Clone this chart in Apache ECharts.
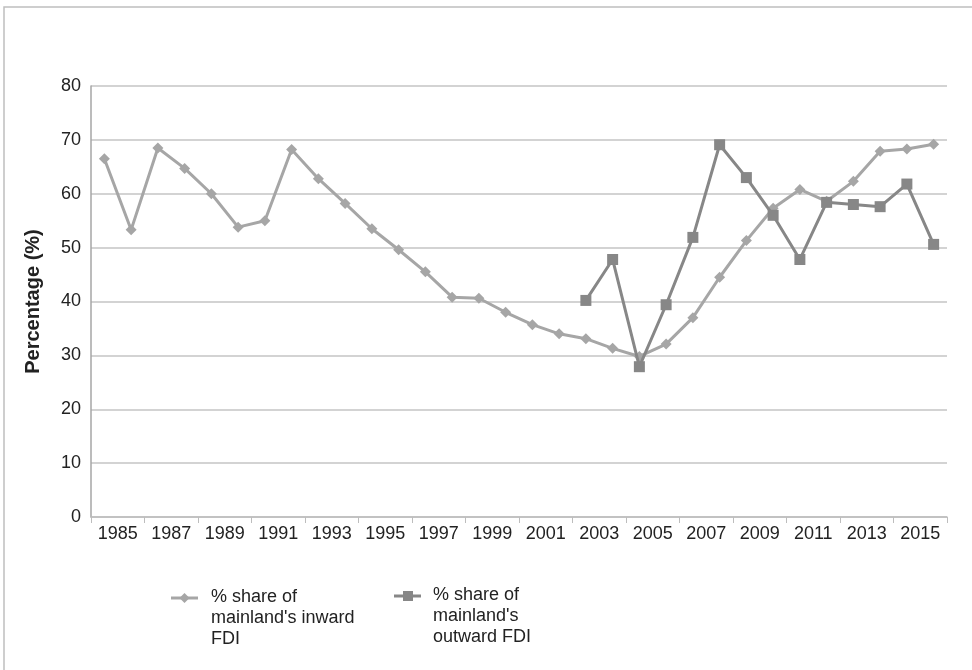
<!DOCTYPE html>
<html>
<head>
<meta charset="utf-8">
<script src="https://cdn.jsdelivr.net/npm/echarts@6/dist/echarts.min.js"></script>
<style>html,body{margin:0;padding:0;background:#fff;}#c{width:972px;height:670px;}</style>
</head>
<body>
<div id="c"></div>
<script>
var years = ['1985','1986','1987','1988','1989','1990','1991','1992','1993','1994','1995','1996','1997','1998','1999','2000','2001','2002','2003','2004','2005','2006','2007','2008','2009','2010','2011','2012','2013','2014','2015','2016'];
var tickLabels = ['1985','1987','1989','1991','1993','1995','1997','1999','2001','2003','2005','2007','2009','2011','2013','2015'];
var inwardName = "% share of mainland's inward FDI";
var outwardName = "% share of mainland's outward FDI";
var inward = [66.5,53.3,68.5,64.7,60.0,53.8,55.0,68.2,62.8,58.2,53.5,49.6,45.5,40.8,40.6,38.0,35.7,34.0,33.1,31.3,29.8,32.1,37.0,44.5,51.3,57.3,60.8,58.6,62.3,67.9,68.3,69.2];
var outward = [null,null,null,null,null,null,null,null,null,null,null,null,null,null,null,null,null,null,40.2,47.8,27.9,39.4,51.9,69.1,63.0,56.0,47.8,58.4,58.0,57.6,61.8,50.6];
var yTitle = 'Percentage (%)';

var FONT = '"Liberation Sans", Arial, sans-serif';
var cInward = '#a6a6a6', cOutward = '#878787';
var chart = echarts.init(document.getElementById('c'), null, {renderer: 'canvas'});
chart.setOption({
  animation: false,
  backgroundColor: '#fff',
  grid: {left: 91, right: 25, top: 86, bottom: 153, containLabel: false},
  xAxis: [
    {type: 'category', data: years, boundaryGap: true,
     axisLine: {show: false}, axisTick: {show: false}, axisLabel: {show: false}, splitLine: {show: false}},
    {type: 'category', data: tickLabels, boundaryGap: true, position: 'bottom',
     axisLine: {show: true, lineStyle: {color: '#bdbdbd', width: 1.5}},
     axisTick: {show: true, length: 6, lineStyle: {color: '#bdbdbd', width: 1}},
     axisLabel: {show: true, interval: 0, margin: 8, color: '#222', fontFamily: FONT, fontSize: 18},
     splitLine: {show: false}}
  ],
  yAxis: {
    type: 'value', min: 0, max: 80, interval: 10,
    name: yTitle, nameLocation: 'middle', nameRotate: 90, nameGap: 48,
    nameTextStyle: {fontFamily: FONT, fontSize: 20, fontWeight: 'bold', color: '#222'},
    axisLine: {show: true, lineStyle: {color: '#a6a6a6', width: 1.5}},
    axisTick: {show: false},
    axisLabel: {margin: 10, color: '#222', fontFamily: FONT, fontSize: 18},
    splitLine: {show: true, lineStyle: {color: '#c4c4c4', width: 1.5}}
  },
  series: [
    {name: inwardName, type: 'line', xAxisIndex: 0, data: inward,
     symbol: 'diamond', symbolSize: 11, connectNulls: false,
     lineStyle: {color: cInward, width: 3}, itemStyle: {color: cInward}, z: 2},
    {name: outwardName, type: 'line', xAxisIndex: 0, data: outward,
     symbol: 'rect', symbolSize: 11, connectNulls: false,
     lineStyle: {color: cOutward, width: 3}, itemStyle: {color: cOutward}, z: 3}
  ],
  graphic: [
    {type: 'rect', shape: {x: 4, y: 7, width: 1000, height: 700}, silent: true, z: -10,
     style: {fill: 'none', stroke: '#bfbfbf', lineWidth: 1.5}},
    {type: 'line', shape: {x1: 171, y1: 598, x2: 198, y2: 598}, style: {stroke: cInward, lineWidth: 3}},
    {type: 'polygon', shape: {points: [[184.5,593],[189.5,598],[184.5,603],[179.5,598]]}, style: {fill: cInward}},
    {type: 'text', left: 211, top: 587, style: {text: "% share of\nmainland's inward\nFDI", font: '18px ' + FONT, fill: '#222', lineHeight: 21}},
    {type: 'line', shape: {x1: 394, y1: 596, x2: 421, y2: 596}, style: {stroke: cOutward, lineWidth: 3}},
    {type: 'rect', shape: {x: 403, y: 591, width: 10, height: 10}, style: {fill: cOutward}},
    {type: 'text', left: 433, top: 585, style: {text: "% share of\nmainland's\noutward FDI", font: '18px ' + FONT, fill: '#222', lineHeight: 21}}
  ]
});
</script>
</body>
</html>
